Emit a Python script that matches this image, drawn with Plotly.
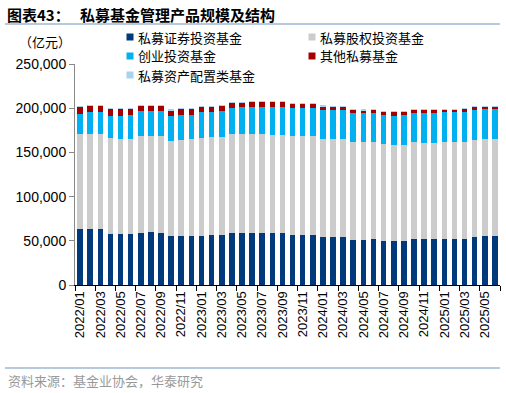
import plotly.graph_objects as go

months = [f"{y}/{m:02d}" for y in (2022, 2023, 2024, 2025) for m in range(1, 13)][:42]

sec = [62900, 63200, 63200, 57600, 57600, 57600, 59100, 59500, 59100, 55400, 55400, 55400,
       55800, 56100, 56500, 58700, 58700, 58700, 58700, 58400, 58400, 56500, 56500, 56500,
       54600, 54600, 54600, 51300, 51300, 51600, 49800, 49800, 49800, 52000, 52000, 51600,
       52000, 52000, 52000, 54600, 55000, 55400]
eq = [107400, 107800, 107800, 108200, 107800, 107800, 109700, 109600, 109700, 107700, 108700, 109200,
      110300, 110800, 110800, 111900, 111600, 111600, 111600, 111500, 111500, 111500, 111900, 111500,
      110800, 110400, 110400, 110400, 110400, 110100, 109600, 108900, 108100, 109300, 108900, 109300,
      109300, 109300, 109700, 109700, 109600, 109200]
vc = [23500, 24300, 24300, 25400, 25800, 26600, 27600, 27300, 27600, 28100, 27900, 27700,
      29200, 28800, 29100, 30000, 30600, 30600, 31400, 31800, 31800, 31800, 31400, 31800,
      32500, 32900, 32900, 32500, 32500, 32500, 32600, 32900, 34100, 33300, 33300, 33300,
      34000, 34000, 34000, 34000, 34100, 34100]
other = [8300, 7500, 7500, 7900, 7900, 7100, 6800, 6800, 6800, 6700, 7200, 7100,
         6400, 6400, 6400, 6300, 6000, 6400, 6000, 6000, 6000, 5500, 5600, 5300,
         4500, 4200, 4200, 4100, 3700, 4100, 4400, 4100, 4100, 4100, 4100, 4100,
         3000, 3400, 3700, 3800, 3400, 3400]
alloc = [100, 100, 100, 100, 100, 100, 100, 100, 100, 100, 100, 100,
         100, 100, 100, 100, 100, 100, 100, 100, 100, 100, 100, 100,
         100, 100, 100, 100, 100, 100, 100, 100, 100, 100, 100, 100,
         100, 100, 100, 100, 100, 100]

series_names = ["私募证券投资基金", "私募股权投资基金", "创业投资基金", "其他私募基金", "私募资产配置类基金"]
series_vals = [sec, eq, vc, other, alloc]
colors = ["#003a7d", "#cccccc", "#00b0f0", "#a50000", "#a9d3ea"]

yticks = [0, 50000, 100000, 150000, 200000, 250000]
xtick_idx = list(range(0, 42, 2))

x = list(range(len(months)))
fig = go.Figure()
for name, vals, c in zip(series_names, series_vals, colors):
    fig.add_trace(go.Bar(x=x, y=vals, name=name, marker=dict(color=c, line=dict(width=0)),
                         showlegend=False))

FONT = "Liberation Sans, Arial, sans-serif"
CJK = "Noto Sans CJK SC"

fig.update_layout(
    width=506, height=393,
    barmode="stack", bargap=0.45,
    paper_bgcolor="white", plot_bgcolor="white",
    margin=dict(l=75, r=6, t=64, b=108),
    xaxis=dict(range=[-0.5, 41.5], tickmode="array", tickvals=xtick_idx,
               ticktext=[months[i] for i in xtick_idx], tickangle=-90,
               ticks="", showline=True, linecolor="#000000", linewidth=1,
               tickfont=dict(family=FONT, size=13, color="#000"),
               minor=dict(tickmode="array", tickvals=[i - 0.5 for i in xtick_idx] + [41.5],
                          ticks="outside", ticklen=5, tickcolor="#000"),
               showgrid=False, zeroline=False),
    yaxis=dict(range=[0, 250000], tickmode="array", tickvals=yticks,
               ticktext=[f"{v:,}" for v in yticks], ticks="outside", ticklen=5,
               tickcolor="#888", showline=True, linecolor="#888", linewidth=1,
               tickfont=dict(family=FONT, size=14, color="#000"),
               showgrid=False, zeroline=False),
)

# legend (manual)
leg_pos = [(130, 37), (312, 37), (130, 56), (312, 56), (130, 75)]
for (px, py), name, c in zip(leg_pos, series_names, colors):
    fig.add_shape(type="rect", xref="paper", yref="paper",
                  x0=(px - 75 - 3.5) / 425, x1=(px - 75 + 3.5) / 425,
                  y0=(285 - py - 3.5) / 221, y1=(285 - py + 3.5) / 221,
                  fillcolor=c, line=dict(width=0))
    fig.add_annotation(xref="paper", yref="paper", x=(px - 75 + 6) / 425, y=(285 - py) / 221,
                       text=name, showarrow=False, xanchor="left", yanchor="middle",
                       font=dict(family=CJK, size=13, color="#000"))

# unit label
fig.add_annotation(xref="paper", yref="paper", x=(17 - 75) / 425, y=(285 - 42) / 221,
                   text="（亿元）", showarrow=False, xanchor="left", yanchor="middle",
                   font=dict(family=CJK, size=13, color="#000"))

# title
fig.add_annotation(xref="paper", yref="paper", x=(5 - 75) / 425, y=(285 - 15) / 221,
                   text="<b>图表43：   私募基金管理产品规模及结构</b>", showarrow=False,
                   xanchor="left", yanchor="middle",
                   font=dict(family=CJK, size=15, color="#000"))
# lines
for ly in (24, 368):
    fig.add_shape(type="line", xref="paper", yref="paper",
                  x0=(5 - 75) / 425, x1=(500 - 75) / 425,
                  y0=(285 - ly) / 221, y1=(285 - ly) / 221,
                  line=dict(color="#9fb8d2", width=1.5))
# source
fig.add_annotation(xref="paper", yref="paper", x=(6 - 75) / 425, y=(285 - 380) / 221,
                   text="资料来源：基金业协会，华泰研究", showarrow=False,
                   xanchor="left", yanchor="middle",
                   font=dict(family=CJK, size=13, color="#999999"))

fig.write_html("out.html", config={"displayModeBar": False},
               post_script="document.body.style.margin='0';")
